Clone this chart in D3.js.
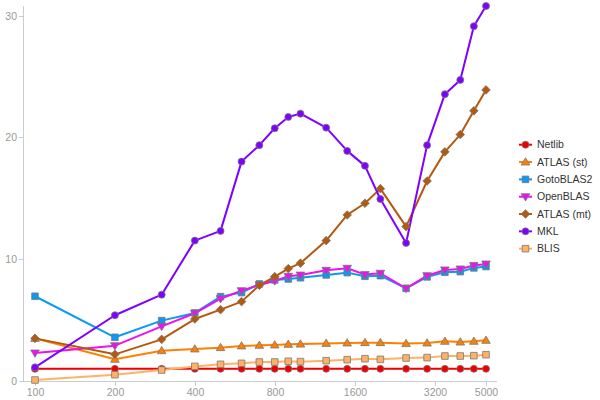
<!DOCTYPE html>
<html>
<head>
<meta charset="utf-8">
<script src="https://cdn.jsdelivr.net/npm/d3@7"></script>
<style>
  html, body { margin: 0; padding: 0; background: #fff; }
  svg { display: block; font-family: "Liberation Sans", Arial, sans-serif; }
</style>
</head>
<body>
<svg id="chart" width="600" height="400"></svg>
<script>
const sizes = [100, 200, 300, 400, 500, 600, 700, 800, 900, 1000, 1250, 1500, 1750, 2000, 2500, 3000, 3500, 4000, 4500, 5000];
const xTicks = [100, 200, 400, 800, 1600, 3200, 5000];
const yTicks = [0, 10, 20, 30];

const netlib   = [1.0, 1.0, 1.0, 1.0, 1.0, 1.0, 1.0, 1.0, 1.0, 1.0, 1.0, 1.0, 1.0, 1.0, 1.0, 1.0, 1.0, 1.0, 1.0, 1.0];
const atlasSt  = [3.5, 1.78, 2.49, 2.63, 2.74, 2.88, 2.93, 2.96, 3.01, 3.03, 3.09, 3.12, 3.15, 3.15, 3.07, 3.12, 3.26, 3.2, 3.26, 3.34];
const gotoblas = [6.96, 3.59, 4.96, 5.59, 6.93, 7.26, 7.97, 8.3, 8.38, 8.48, 8.71, 8.9, 8.6, 8.65, 7.61, 8.55, 8.93, 8.98, 9.29, 9.4];
const openblas = [2.3, 2.9, 4.49, 5.56, 6.76, 7.42, 7.89, 8.22, 8.6, 8.7, 9.09, 9.26, 8.74, 8.85, 7.61, 8.65, 9.12, 9.2, 9.48, 9.61];
const atlasMt  = [3.5, 2.19, 3.42, 5.09, 5.86, 6.52, 7.86, 8.57, 9.23, 9.68, 11.53, 13.64, 14.6, 15.8, 12.68, 16.43, 18.82, 20.24, 22.19, 23.91];
const mkl      = [1.12, 5.4, 7.09, 11.53, 12.33, 18.02, 19.37, 20.76, 21.69, 21.96, 20.81, 18.9, 17.67, 14.95, 11.34, 19.37, 23.56, 24.73, 29.14, 30.8];
const blis     = [0.08, 0.52, 0.9, 1.2, 1.37, 1.45, 1.56, 1.56, 1.62, 1.59, 1.67, 1.75, 1.83, 1.78, 1.89, 1.92, 2.05, 2.05, 2.08, 2.16];

const seriesNames = ["Netlib", "ATLAS (st)", "GotoBLAS2", "OpenBLAS", "ATLAS (mt)", "MKL", "BLIS"];
const seriesValues = [netlib, atlasSt, gotoblas, openblas, atlasMt, mkl, blis];
const seriesColors = ["#ee0000", "#ff8000", "#0a9af5", "#ee10ee", "#b35a0e", "#7f00ff", "#ffb266"];
const seriesShapes = ["circle", "triangle", "square", "triangleDown", "diamond", "circle", "square"];

const svg = d3.select("#chart");

const x = d3.scaleLog().domain([100, 5000]).range([35, 486]);
const y = d3.scaleLinear().domain([0, 30.8]).range([381, 6]);

const axisColor = "#cccccc";
const labelColor = "#999999";

svg.append("line").attr("x1", 23.5).attr("x2", 23.5).attr("y1", 6).attr("y2", 381.5)
  .attr("stroke", axisColor).attr("stroke-width", 1);
svg.append("line").attr("x1", 22).attr("x2", 497).attr("y1", 381.5).attr("y2", 381.5)
  .attr("stroke", axisColor).attr("stroke-width", 1);

const yAxis = svg.append("g");
yTicks.forEach(t => {
  const yy = Math.round(y(t)) + 0.5;
  yAxis.append("line").attr("x1", 19).attr("x2", 23).attr("y1", yy).attr("y2", yy)
    .attr("stroke", axisColor);
  yAxis.append("text").attr("x", 17).attr("y", yy).attr("dy", "0.35em")
    .attr("text-anchor", "end").attr("font-size", 10.5).attr("fill", labelColor).text(t);
});

const xAxis = svg.append("g");
xTicks.forEach(t => {
  const xx = Math.round(x(t)) + 0.5;
  xAxis.append("line").attr("x1", xx).attr("x2", xx).attr("y1", 381.5).attr("y2", 386)
    .attr("stroke", axisColor);
  xAxis.append("text").attr("x", xx).attr("y", 396).attr("text-anchor", "middle")
    .attr("font-size", 10.5).attr("fill", labelColor).text(t);
});

function symbolPath(shape, cx, cy) {
  const s = 3.3;
  switch (shape) {
    case "square": return `M${cx - s},${cy - s}h${2 * s}v${2 * s}h${-2 * s}Z`;
    case "triangle": return `M${cx},${cy - 4.3}L${cx + 4.3},${cy + 3}L${cx - 4.3},${cy + 3}Z`;
    case "triangleDown": return `M${cx},${cy + 4.3}L${cx + 4.3},${cy - 3}L${cx - 4.3},${cy - 3}Z`;
    case "diamond": return `M${cx},${cy - 4.3}L${cx + 4.3},${cy}L${cx},${cy + 4.3}L${cx - 4.3},${cy}Z`;
  }
  return null;
}

function drawMarker(g, shape, cx, cy, color) {
  if (shape === "circle") {
    g.append("circle").attr("cx", cx).attr("cy", cy).attr("r", 3.5)
      .attr("fill", color).attr("stroke", "#777").attr("stroke-width", 0.8);
  } else {
    g.append("path").attr("d", symbolPath(shape, cx, cy))
      .attr("fill", color).attr("stroke", "#777").attr("stroke-width", 0.8);
  }
}

const line = d3.line().x(d => x(d[0])).y(d => y(d[1]));

const linesG = svg.append("g");
seriesValues.forEach((vals, i) => {
  const pts = sizes.map((s, j) => [s, vals[j]]);
  linesG.append("path").attr("d", line(pts)).attr("fill", "none")
    .attr("stroke", seriesColors[i]).attr("stroke-width", 2).attr("stroke-linejoin", "round");
});

const markersG = svg.append("g");
seriesValues.forEach((vals, i) => {
  sizes.forEach((s, j) => drawMarker(markersG, seriesShapes[i], x(s), y(vals[j]), seriesColors[i]));
});

const legend = svg.append("g");
seriesNames.forEach((name, i) => {
  const ly = 144.7 + i * 17.33;
  legend.append("line").attr("x1", 519).attr("x2", 532).attr("y1", ly).attr("y2", ly)
    .attr("stroke", seriesColors[i]).attr("stroke-width", 2);
  drawMarker(legend, seriesShapes[i], 525.5, ly, seriesColors[i]);
  legend.append("text").attr("x", 537).attr("y", ly).attr("dy", "0.35em")
    .attr("font-size", 10.5).attr("fill", "#333").text(name);
});
</script>
</body>
</html>
